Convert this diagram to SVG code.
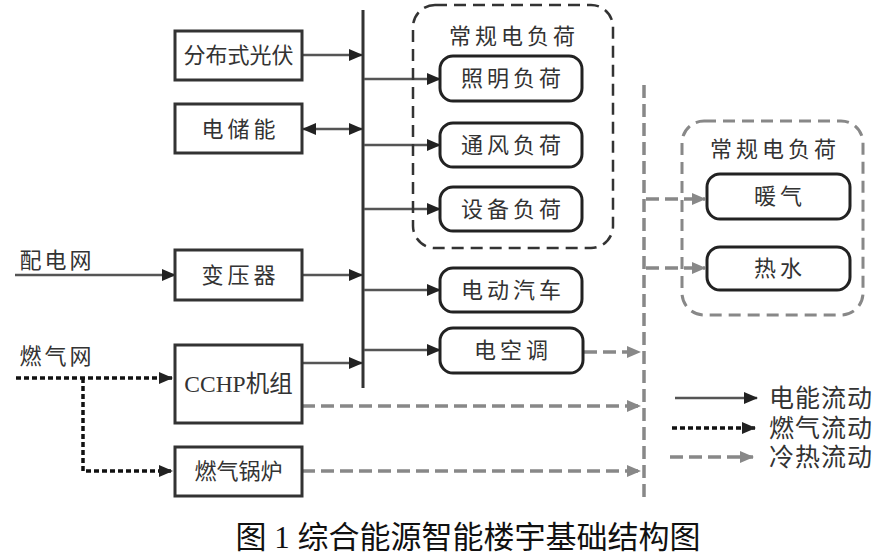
<svg xmlns="http://www.w3.org/2000/svg" width="895" height="557" viewBox="0 0 895 557">
<style>
.box{fill:#fff;stroke:#333;stroke-width:3}
.rbox{fill:#fff;stroke:#222;stroke-width:3}
.grp{fill:none;stroke:#333;stroke-width:2.5;stroke-dasharray:12 7}
.grp2{fill:none;stroke:#888;stroke-width:3;stroke-dasharray:12 7}
.t{font-family:"Liberation Serif","Noto Sans CJK SC",serif;font-size:22px;fill:#333;text-anchor:middle}
.ts{letter-spacing:4px}
.el{fill:none;stroke:#555;stroke-width:2.5}
.gas{fill:none;stroke:#111;stroke-width:3.5;stroke-dasharray:5 3}
.heat{fill:none;stroke:#888;stroke-width:3.5;stroke-dasharray:13 6}
</style>
<defs>
<marker id="ae" markerUnits="userSpaceOnUse" markerWidth="14" markerHeight="12" refX="13" refY="6" orient="auto"><path d="M0,0 L14,6 L0,12 Z" fill="#222"/></marker>
<marker id="aes" markerUnits="userSpaceOnUse" markerWidth="14" markerHeight="12" refX="1" refY="6" orient="auto"><path d="M14,0 L0,6 L14,12 Z" fill="#222"/></marker>
<marker id="ah" markerUnits="userSpaceOnUse" markerWidth="14" markerHeight="12" refX="13" refY="6" orient="auto"><path d="M0,0 L14,6 L0,12 Z" fill="#888"/></marker>
</defs>
<rect width="895" height="557" fill="#fff"/>

<g id="connectors">
<line x1="363" y1="10" x2="363" y2="388" stroke="#333" stroke-width="3"/>
<line class="el" x1="302" y1="55" x2="362" y2="55" marker-end="url(#ae)"/>
<line class="el" x1="303" y1="129" x2="362" y2="129" marker-start="url(#aes)" marker-end="url(#ae)"/>
<line class="el" x1="15" y1="275" x2="175" y2="275" marker-end="url(#ae)"/>
<line class="el" x1="302" y1="275" x2="362" y2="275" marker-end="url(#ae)"/>
<line class="el" x1="302" y1="363" x2="362" y2="363" marker-end="url(#ae)"/>
<line class="el" x1="364" y1="79" x2="440" y2="79" marker-end="url(#ae)"/>
<line class="el" x1="364" y1="145" x2="440" y2="145" marker-end="url(#ae)"/>
<line class="el" x1="364" y1="209" x2="440" y2="209" marker-end="url(#ae)"/>
<line class="el" x1="364" y1="290" x2="440" y2="290" marker-end="url(#ae)"/>
<line class="el" x1="364" y1="350" x2="440" y2="350" marker-end="url(#ae)"/>
<polyline class="gas" points="16,378 172,378" marker-end="url(#ae)"/>
<polyline class="gas" points="83,378 83,471 172,471" marker-end="url(#ae)"/>
<line class="heat" x1="644" y1="85" x2="644" y2="497"/>
<line class="heat" x1="584" y1="352" x2="640" y2="352" marker-end="url(#ah)"/>
<line class="heat" x1="302" y1="406" x2="640" y2="406" marker-end="url(#ah)"/>
<line class="heat" x1="302" y1="471" x2="640" y2="471" marker-end="url(#ah)"/>
<line class="heat" x1="646" y1="199" x2="705" y2="199" marker-end="url(#ah)"/>
<line class="heat" x1="646" y1="268" x2="705" y2="268" marker-end="url(#ah)"/>
</g>

<g id="pv"><rect class="box" x="175" y="31" width="127" height="49"/><text class="t" x="238.5" y="63">分布式光伏</text></g>
<g id="storage"><rect class="box" x="175" y="104" width="127" height="49"/><text class="t ts" x="240.5" y="137">电储能</text></g>
<g id="grid"><text class="t" x="57" y="268" style="letter-spacing:3px">配电网</text></g>
<g id="transformer"><rect class="box" x="175" y="250" width="127" height="50"/><text class="t ts" x="240.5" y="283">变压器</text></g>
<g id="gasnet"><text class="t" x="57" y="364" style="letter-spacing:3px">燃气网</text></g>
<g id="cchp"><rect class="box" x="175" y="345" width="127" height="78"/><text class="t" x="238.5" y="392" style="font-size:23.5px">CCHP机组</text></g>
<g id="boiler"><rect class="box" x="175" y="447" width="127" height="49"/><text class="t" x="238.5" y="479">燃气锅炉</text></g>

<g id="elec-loads"><rect class="grp" x="413" y="5" width="200" height="243" rx="22"/><text class="t ts" x="514" y="44">常规电负荷</text></g>
<g id="lighting"><rect class="rbox" x="440" y="56" width="142" height="45" rx="13"/><text class="t ts" x="513" y="86">照明负荷</text></g>
<g id="vent"><rect class="rbox" x="440" y="123" width="142" height="44" rx="13"/><text class="t ts" x="513" y="153">通风负荷</text></g>
<g id="equip"><rect class="rbox" x="440" y="187" width="142" height="44" rx="13"/><text class="t ts" x="513" y="217">设备负荷</text></g>
<g id="ev"><rect class="rbox" x="440" y="268" width="142" height="44" rx="13"/><text class="t ts" x="513" y="298">电动汽车</text></g>
<g id="ac"><rect class="rbox" x="440" y="328" width="143" height="45" rx="13"/><text class="t ts" x="513" y="358">电空调</text></g>

<g id="heat-loads"><rect class="grp2" x="682" y="121" width="181" height="194" rx="22"/><text class="t ts" x="775" y="157">常规电负荷</text></g>
<g id="heating"><rect class="rbox" x="707" y="174" width="143" height="45" rx="13"/><text class="t ts" x="780" y="204">暖气</text></g>
<g id="hotwater"><rect class="rbox" x="707" y="247" width="143" height="43" rx="13"/><text class="t ts" x="780" y="276">热水</text></g>

<g id="legend">
<line class="el" x1="675" y1="398" x2="757" y2="398" marker-end="url(#ae)"/>
<line class="gas" x1="672" y1="428" x2="755" y2="428" marker-end="url(#ae)"/>
<line class="heat" x1="670" y1="457" x2="753" y2="457" marker-end="url(#ah)"/>
<text class="t" x="821" y="407" style="font-size:25px;letter-spacing:1px">电能流动</text>
<text class="t" x="821" y="437" style="font-size:25px;letter-spacing:1px">燃气流动</text>
<text class="t" x="821" y="466" style="font-size:25px;letter-spacing:1px">冷热流动</text>
</g>

<g id="caption"><text x="468" y="548" style="font-family:'Liberation Serif','Noto Sans CJK SC',serif;font-size:31px;fill:#111;text-anchor:middle">图 1 综合能源智能楼宇基础结构图</text></g>
</svg>
